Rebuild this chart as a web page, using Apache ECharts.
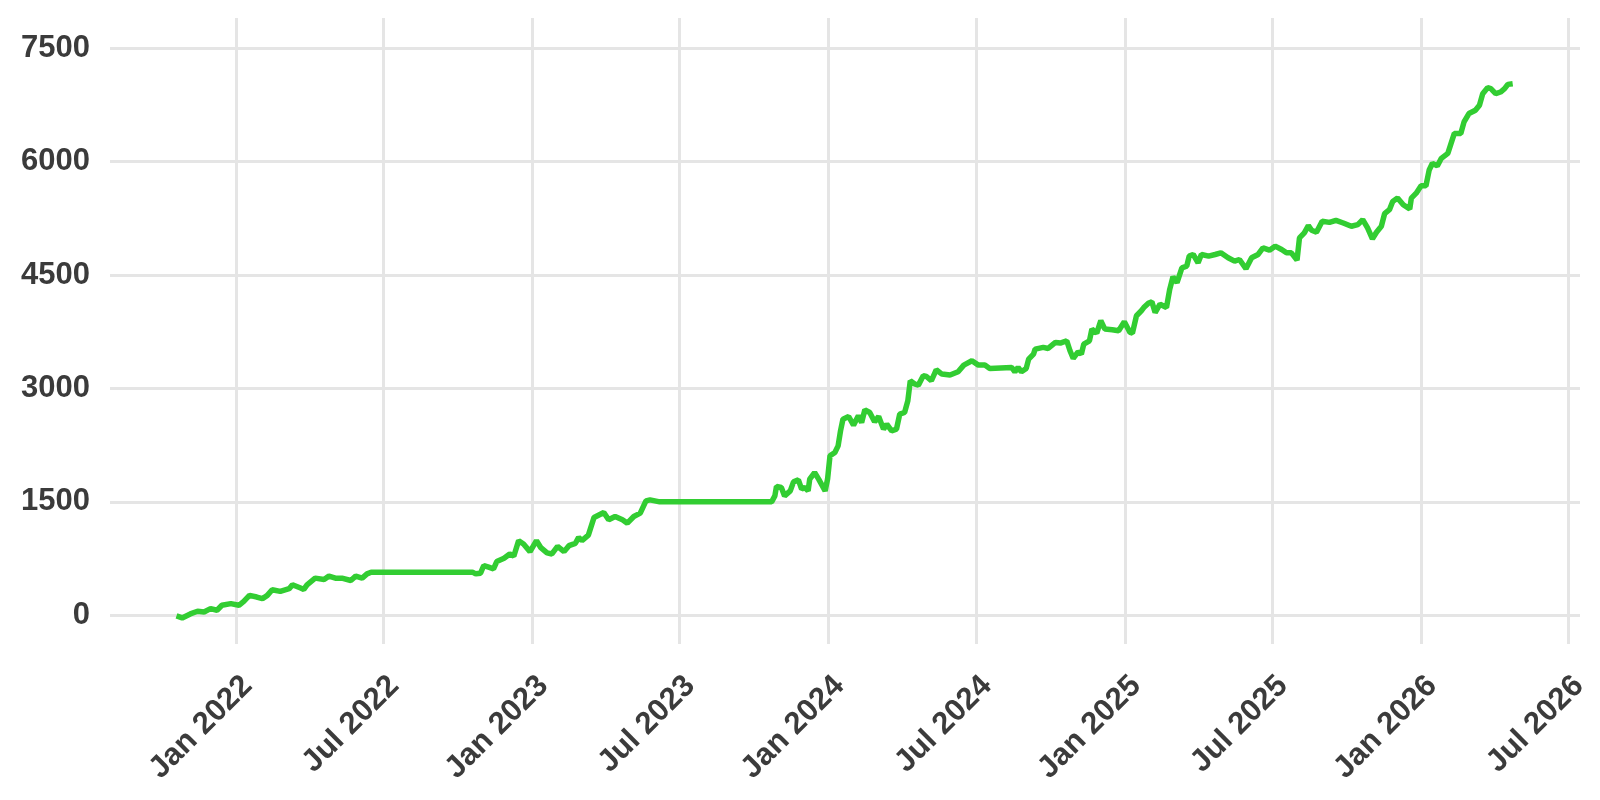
<!DOCTYPE html>
<html>
<head>
<meta charset="utf-8">
<script src="https://cdn.jsdelivr.net/npm/echarts@6/dist/echarts.min.js"></script>
<style>
  html, body { margin: 0; padding: 0; background: #fff; }
  #main { width: 1600px; height: 800px; }
</style>
</head>
<body>
<div id="main"></div>
<script>
// 累计收益曲线
var dates = [
  '2021-10-19','2021-10-26','2021-11-05','2021-11-14','2021-11-22','2021-11-30','2021-12-08','2021-12-14','2021-12-25',
  '2022-01-04','2022-01-10','2022-01-17','2022-01-26','2022-02-02','2022-02-08','2022-02-14','2022-02-24',
  '2022-03-07','2022-03-11','2022-03-21','2022-03-25','2022-03-29','2022-04-08','2022-04-19','2022-04-25',
  '2022-05-03','2022-05-11','2022-05-22','2022-05-28','2022-06-05','2022-06-11','2022-06-16',
  '2022-10-19','2022-10-23','2022-10-29','2022-11-02','2022-11-08','2022-11-14','2022-11-18','2022-11-27',
  '2022-12-04','2022-12-09','2022-12-15','2022-12-21','2022-12-29',
  '2023-01-06','2023-01-11','2023-01-19','2023-01-25','2023-02-01','2023-02-09','2023-02-15','2023-02-23','2023-02-27',
  '2023-03-03','2023-03-11','2023-03-18','2023-03-30','2023-04-05','2023-04-13','2023-04-22','2023-04-28',
  '2023-05-06','2023-05-14','2023-05-21','2023-05-26','2023-06-07',
  '2023-10-23','2023-10-27','2023-10-29','2023-11-04','2023-11-08','2023-11-15','2023-11-19','2023-11-25','2023-11-29',
  '2023-12-03','2023-12-07','2023-12-09','2023-12-15','2023-12-20','2023-12-28','2023-12-31',
  '2024-01-03','2024-01-09','2024-01-13','2024-01-16','2024-01-19','2024-01-26','2024-02-01','2024-02-07','2024-02-11',
  '2024-02-15','2024-02-21','2024-02-27','2024-03-03','2024-03-09','2024-03-13','2024-03-19','2024-03-25','2024-03-29',
  '2024-04-04','2024-04-08','2024-04-11','2024-04-17','2024-04-21','2024-04-27','2024-05-01','2024-05-07','2024-05-13',
  '2024-05-20','2024-05-30','2024-06-09','2024-06-16','2024-06-26','2024-07-04','2024-07-12','2024-07-18',
  '2024-08-14','2024-08-18','2024-08-22','2024-08-26','2024-09-01','2024-09-04','2024-09-10','2024-09-12','2024-09-22',
  '2024-09-28','2024-10-07','2024-10-13','2024-10-21','2024-10-25','2024-10-29','2024-11-04','2024-11-08','2024-11-11',
  '2024-11-18','2024-11-21','2024-11-27','2024-12-02','2024-12-07','2024-12-16','2024-12-24','2024-12-31',
  '2025-01-07','2025-01-10','2025-01-15','2025-01-21','2025-01-24','2025-01-30','2025-02-03','2025-02-07','2025-02-13',
  '2025-02-21','2025-02-25','2025-03-01','2025-03-06','2025-03-12','2025-03-18','2025-03-21','2025-03-26',
  '2025-04-01','2025-04-05','2025-04-14','2025-04-22','2025-04-29','2025-05-08','2025-05-16','2025-05-22','2025-05-30',
  '2025-06-06','2025-06-14','2025-06-20','2025-06-28','2025-07-05','2025-07-13','2025-07-19','2025-07-25',
  '2025-08-01','2025-08-04','2025-08-10','2025-08-15','2025-08-19','2025-08-25','2025-09-01','2025-09-10','2025-09-18',
  '2025-09-27','2025-10-07','2025-10-15','2025-10-21','2025-10-27','2025-11-02','2025-11-07','2025-11-13','2025-11-17',
  '2025-11-23','2025-11-27','2025-12-03','2025-12-10','2025-12-18','2025-12-20','2025-12-26',
  '2026-01-01','2026-01-07','2026-01-11','2026-01-15','2026-01-21','2026-01-26','2026-02-03','2026-02-07','2026-02-11',
  '2026-02-19','2026-02-23','2026-03-01','2026-03-09','2026-03-14','2026-03-18','2026-03-24','2026-03-28',
  '2026-04-03','2026-04-09','2026-04-14','2026-04-18','2026-04-24'
];

var values = [
  -9, -35, 18, 53, 44, 88, 66, 132, 154,
  132, 184, 263, 241, 219, 263, 338, 316,
  351, 403, 360, 342, 403, 491, 474, 518,
  491, 491, 460, 518, 491, 548, 570,
  570, 548, 557, 658, 636, 614, 710, 754,
  811, 781, 987, 943, 842,
  987, 899, 825, 811, 912, 842, 921, 952, 1031,
  987, 1061, 1294, 1360, 1263, 1307, 1263, 1219,
  1307, 1351, 1513, 1526, 1500,
  1500, 1579, 1703, 1690, 1579, 1646, 1765, 1791, 1668,
  1690, 1646, 1800, 1888, 1800, 1646, 1800,
  2109, 2153, 2241, 2440, 2594, 2629, 2515, 2638, 2550,
  2718, 2682, 2559, 2629, 2462, 2528, 2440, 2462, 2660,
  2682, 2837, 3102, 3057, 3044, 3168, 3159, 3102, 3247,
  3190, 3177, 3221, 3309, 3366, 3309, 3309, 3265,
  3278, 3221, 3278, 3221, 3265, 3388, 3455, 3521, 3543,
  3529, 3609, 3600, 3631, 3499, 3397, 3485, 3455, 3587,
  3631, 3785, 3732, 3896, 3785, 3777, 3763, 3882,
  3741, 3732, 3962, 4028, 4070, 4130, 4145, 4004, 4114,
  4070, 4311, 4478, 4399, 4596, 4618, 4750, 4772,
  4662, 4772, 4750, 4772, 4794, 4728, 4684, 4706, 4583,
  4728, 4772, 4860, 4829, 4882, 4838, 4794, 4794,
  4697, 4991, 5057, 5154, 5092, 5066, 5211, 5197, 5224,
  5189, 5145, 5167, 5232, 5123, 4978, 5066, 5145, 5311,
  5364, 5474, 5518, 5430, 5373, 5518, 5583,
  5680, 5680, 5890, 5978, 5943, 6044, 6110, 6241, 6373,
  6373, 6526, 6636, 6680, 6746, 6899, 6978, 6965,
  6899, 6921, 6965, 7022, 7031
];

var xTickDates = ['2022-01-01','2022-07-01','2023-01-01','2023-07-01','2024-01-01',
                  '2024-07-01','2025-01-01','2025-07-01','2026-01-01','2026-07-01'];
var xTickLabels = ['Jan 2022','Jul 2022','Jan 2023','Jul 2023','Jan 2024',
                   'Jul 2024','Jan 2025','Jul 2025','Jan 2026','Jul 2026'];
var yTicks = [0, 1500, 3000, 4500, 6000, 7500];

function toTime(s) {
    var p = s.split('-');
    return Date.UTC(+p[0], +p[1] - 1, +p[2]);
}

var xTickTimes = xTickDates.map(toTime);
var labelByTime = {};
xTickTimes.forEach(function (t, i) { labelByTime[t] = xTickLabels[i]; });

var seriesData = dates.map(function (d, i) { return [toTime(d), values[i]]; });

var textColor = '#3b3b3b';
var gridColor = '#e5e5e5';
var labelFont = 'Liberation Sans, Arial, sans-serif';

var myChart = echarts.init(document.getElementById('main'));

option = {
    backgroundColor: '#ffffff',
    animation: false,
    grid: {
        left: 110,
        right: 20,
        top: 18,
        bottom: 156,
        containLabel: false,
        outerBoundsMode: 'none'
    },
    xAxis: {
        // 时间戳作为数值轴，刻度放在每年一月、七月
        type: 'value',
        min: toTime('2021-07-29'),
        max: toTime('2026-07-16'),
        axisLine: { show: false },
        axisTick: { show: false, customValues: xTickTimes },
        splitLine: {
            show: true,
            lineStyle: { color: gridColor, width: 3 }
        },
        axisLabel: {
            customValues: xTickTimes,
            rotate: 45,
            align: 'right',
            verticalAlign: 'top',
            margin: 26,
            color: textColor,
            fontSize: 31,
            fontWeight: 'bold',
            fontFamily: labelFont,
            formatter: function (v) { return labelByTime[v] || ''; }
        }
    },
    yAxis: {
        type: 'value',
        min: -380,
        max: 7900,
        axisLine: { show: false },
        axisTick: { show: false, customValues: yTicks },
        splitLine: {
            show: true,
            lineStyle: { color: gridColor, width: 3 }
        },
        axisLabel: {
            customValues: yTicks,
            margin: 20,
            color: textColor,
            fontSize: 31,
            fontWeight: 'bold',
            fontFamily: labelFont,
            formatter: function (v) { return String(v); }
        }
    },
    series: [
        {
            type: 'line',
            data: seriesData,
            symbol: 'none',
            lineStyle: { color: '#32cd32', width: 5.5 },
            itemStyle: { color: '#32cd32' }
        }
    ]
};

myChart.setOption(option);
</script>
</body>
</html>
